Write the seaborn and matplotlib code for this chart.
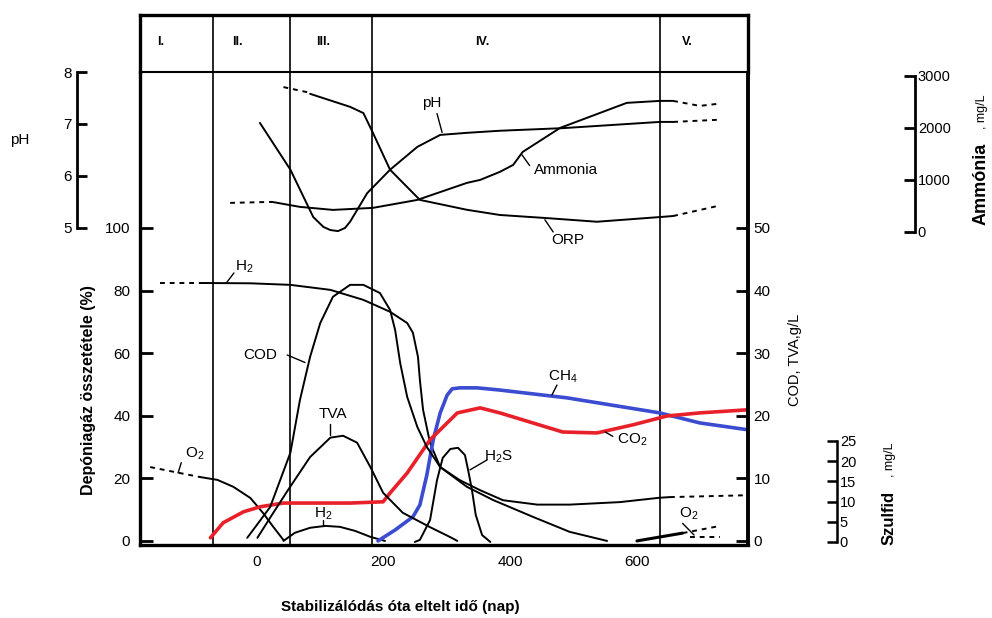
import numpy as np
import pandas as pd
import matplotlib.pyplot as plt
import seaborn as sns

# phases (days)
phase_bounds = [-68, 53, 183, 636]
phase_names = ['I.', 'II.', 'III.', 'IV.', 'V.']
phase_label_x = [-151, -30, 106, 357, 679]

# gas composition, % (the top curve is labelled H2 in the source)
h2_top_day_dash = [-151, -88]
h2_top_dash = [82.4, 82.4]
h2_top_day = [-88, -9, 54, 117, 169, 211, 238, 247, 255, 258, 263, 274, 290, 332, 373, 436, 494, 553]
h2_top = [82.4, 82.3, 81.8, 80.2, 77.0, 73.2, 69.6, 66.5, 58.8, 51.4, 41.9, 31.3, 23.6, 17.3, 13.1, 7.7, 2.9, 0.0]

o2_day_dash = [-167, -128, -88]
o2_dash = [23.6, 22.0, 20.4]
o2_day = [-88, -61, -36, -9, 11, 27, 43]
o2 = [20.4, 19.5, 17.3, 13.7, 8.9, 4.5, 0.3]
o2_end_day = [600, 672]
o2_end = [0.0, 2.5]
o2_end_day_dash = [672, 731]
o2_end_dash = [2.5, 4.8]
o2_low_day_dash = [683, 731]
o2_low_dash = [1.3, 1.3]

h2_day = [43, 61, 85, 109, 132, 156, 180, 203]
h2 = [0.0, 2.6, 4.2, 4.8, 4.5, 3.2, 1.3, 0.0]

ch4_day = [192, 219, 247, 258, 269, 279, 290, 301, 309, 321, 348, 384, 490, 636, 699, 775]
ch4 = [0.0, 3.5, 7.7, 11.5, 21.1, 32.3, 40.9, 46.6, 48.6, 48.9, 48.9, 48.2, 45.7, 40.9, 37.7, 35.5]

co2_day = [-72, -52, -20, 6, 43, 96, 148, 200, 211, 238, 274, 317, 353, 384, 483, 537, 594, 647, 699, 775]
co2 = [1.0, 5.8, 9.3, 10.9, 12.1, 12.1, 12.1, 12.5, 15.3, 21.7, 32.3, 40.9, 42.5, 40.9, 34.8, 34.5, 37.1, 39.9, 40.9, 41.9]

# COD, TVA in g/L
cod_day = [-14, 22, 54, 69, 85, 101, 121, 148, 169, 195, 211, 219, 227, 238, 254, 269, 290, 321, 353, 389, 443, 494, 573, 636, 652]
cod = [0.5, 5.4, 14.1, 22.5, 29.4, 34.8, 39.0, 40.9, 40.9, 39.6, 36.9, 33.7, 28.4, 23.0, 18.2, 15.0, 11.8, 9.7, 8.1, 6.5, 5.8, 5.8, 6.2, 6.9, 7.0]
cod_day_dash = [652, 775]
cod_dash = [7.0, 7.3]

tva_day = [2, 22, 50, 85, 117, 137, 159, 180, 200, 231, 274, 306, 317]
tva = [0.5, 3.7, 8.1, 13.4, 16.5, 16.8, 15.7, 11.8, 7.7, 4.5, 2.2, 0.6, 0.0]

# sulfide (H2S), mg/L
h2s_day = [250, 258, 274, 285, 294, 306, 318, 329, 334, 340, 346, 356, 369]
h2s = [0.0, 0.5, 5.4, 15.3, 20.8, 23.0, 23.3, 21.5, 17.8, 12.9, 6.7, 1.7, 0.0]

# pH
ph_day = [6, 54, 90, 106, 117, 129, 140, 148, 175, 211, 254, 290, 332, 384, 483, 636, 657]
ph = [7.02, 6.12, 5.21, 5.02, 4.96, 4.94, 5.0, 5.12, 5.67, 6.12, 6.56, 6.79, 6.83, 6.87, 6.92, 7.04, 7.04]
ph_day_dash = [657, 726]
ph_dash = [7.04, 7.08]

# ammonia, mg/L
amm_day_dash = [-41, 25]
amm_dash = [558, 577]
amm_day = [25, 69, 121, 184, 254, 332, 353, 384, 405, 420, 479, 584, 636, 657]
amm = [577, 481, 423, 462, 615, 942, 1000, 1154, 1288, 1538, 2000, 2481, 2519, 2519]
amm_day_dash2 = [657, 699, 726]
amm_dash2 = [2519, 2423, 2461]

# ORP has no scale in the source; values are relative, drawn on the pH scale
orp_day_dash = [43, 85]
orp_dash = [7.71, 7.60]
orp_day = [85, 148, 169, 184, 211, 258, 332, 384, 458, 537, 636, 657]
orp = [7.58, 7.33, 7.21, 6.83, 6.12, 5.54, 5.35, 5.25, 5.19, 5.12, 5.21, 5.23]
orp_day_dash2 = [657, 726]
orp_dash2 = [5.23, 5.42]

sns.set_style('white')
plt.rcParams['font.family'] = ['Liberation Sans', 'DejaVu Sans']
plt.rcParams['mathtext.default'] = 'regular'
plt.rcParams['axes.edgecolor'] = 'black'
plt.rcParams['xtick.color'] = 'black'
plt.rcParams['ytick.color'] = 'black'
plt.rcParams['text.color'] = 'black'

fig = plt.figure(figsize=(9.92, 6.18), dpi=100)
W, H = 992, 618
L, R, T, B = 140, 748, 72, 545
ax = fig.add_axes([L / W, 1 - B / H, (R - L) / W, (B - T) / H])
hd = fig.add_axes([L / W, 1 - T / H, (R - L) / W, (T - 15) / H])

xlim = (-183, 775)
gas_lim = (-1.3, 149.8)
ax.set_xlim(*xlim)
ax.set_ylim(*gas_lim)


def lin(g0, v0, g1, v1):
    # linear map from gas-% position to another scale
    k = (v1 - v0) / (g1 - g0)
    return (v0 + (gas_lim[0] - g0) * k, v0 + (gas_lim[1] - g0) * k)


def twin(lim):
    t = ax.twinx()
    t.set_ylim(*lim)
    for s in t.spines.values():
        s.set_visible(False)
    return t


ax_cod = twin(lin(0, 0, 100, 50))
ax_ph = twin(lin(100, 5, 149.84, 8))
ax_amm = twin(lin(98.72, 0, 148.56, 3000))
ax_s = twin(lin(-0.32, 0, 31.95, 25))

blk = dict(color='black', lw=1.4, estimator=None, sort=False)
dsh = dict(color='black', lw=1.4, estimator=None, sort=False, linestyle=(0, (2.5, 2.5)))


def draw(a, x, y, kw):
    sns.lineplot(x=x, y=y, ax=a, **kw)


# gas curves
draw(ax, h2_top_day_dash, h2_top_dash, dsh)
draw(ax, h2_top_day, h2_top, blk)
draw(ax, o2_day_dash, o2_dash, dsh)
draw(ax, o2_day, o2, blk)
draw(ax, o2_end_day, o2_end, dict(blk, lw=2.2))
draw(ax, o2_end_day_dash, o2_end_dash, dsh)
draw(ax, o2_low_day_dash, o2_low_dash, dsh)
draw(ax, h2_day, h2, blk)
draw(ax_cod, cod_day, cod, blk)
draw(ax_cod, cod_day_dash, cod_dash, dsh)
draw(ax_cod, tva_day, tva, blk)
draw(ax_s, h2s_day, h2s, blk)
draw(ax_ph, ph_day, ph, blk)
draw(ax_ph, ph_day_dash, ph_dash, dsh)
draw(ax_ph, orp_day_dash, orp_dash, dsh)
draw(ax_ph, orp_day, orp, blk)
draw(ax_ph, orp_day_dash2, orp_dash2, dsh)
draw(ax_amm, amm_day_dash, amm_dash, dsh)
draw(ax_amm, amm_day, amm, blk)
draw(ax_amm, amm_day_dash2, amm_dash2, dsh)
draw(ax, ch4_day, ch4, dict(color='#3b4cd0', lw=2.6, estimator=None, sort=False))
draw(ax, co2_day, co2, dict(color='#e8202a', lw=2.6, estimator=None, sort=False))

for a in (ax, ax_cod, ax_ph, ax_amm, ax_s):
    a.set_xlabel('')
    a.set_ylabel('')

# phase dividers
for b in phase_bounds:
    ax.axvline(b, color='black', lw=1.2, zorder=0)
    hd.axvline(b, color='black', lw=1.2)

# header
hd.set_xlim(*xlim)
hd.set_ylim(0, 1)
hd.set_xticks([])
hd.set_yticks([])
for n, x in zip(phase_names, phase_label_x):
    hd.text(x, 0.52, n, ha='center', va='center', fontsize=9, fontweight='bold')
for s in ('top', 'left', 'right'):
    hd.spines[s].set_linewidth(2.4)
hd.spines['bottom'].set_linewidth(1.5)

# main axes
ax.spines['top'].set_visible(False)
for s in ('left', 'bottom'):
    ax.spines[s].set_linewidth(2.4)
ax.spines['right'].set_linewidth(2.8)
ax.set_yticks([0, 20, 40, 60, 80, 100])
ax.tick_params(axis='y', direction='in', length=9, width=2, labelsize=11, pad=7)
ax.set_xticks([0, 200, 400, 600])
ax.tick_params(axis='x', length=0, labelsize=11, pad=7)

# COD axis
ax_cod.set_yticks([0, 10, 20, 30, 40, 50])
ax_cod.tick_params(axis='y', direction='in', length=9, width=2, labelsize=11, pad=4)

# pH axis
ax_ph.yaxis.set_ticks_position('left')
ax_ph.spines['left'].set_visible(True)
ax_ph.spines['left'].set_position(('axes', (77 - L) / (R - L)))
ax_ph.spines['left'].set_bounds(5, 8)
ax_ph.spines['left'].set_linewidth(2)
ax_ph.set_yticks([5, 6, 7, 8])
ax_ph.tick_params(axis='y', direction='in', length=7, width=2, labelsize=11, pad=4)

# ammonia axis
ax_amm.spines['right'].set_visible(True)
ax_amm.spines['right'].set_position(('axes', (915 - L) / (R - L)))
ax_amm.spines['right'].set_bounds(0, 3000)
ax_amm.spines['right'].set_linewidth(2)
ax_amm.set_yticks([0, 1000, 2000, 3000])
ax_amm.tick_params(axis='y', direction='in', length=8, width=2, labelsize=10.5, pad=2)

# sulfide axis
ax_s.spines['right'].set_visible(True)
ax_s.spines['right'].set_position(('axes', (837 - L) / (R - L)))
ax_s.spines['right'].set_bounds(0, 25)
ax_s.spines['right'].set_linewidth(1.8)
ax_s.set_yticks([0, 5, 10, 15, 20, 25])
ax_s.tick_params(axis='y', direction='in', length=7, width=1.8, labelsize=10.5, pad=2)

# curve labels with leader lines (days, gas-% positions)
labels = [
    ('H$_2$', (-33, 87.5), (-47, 82.4), (-35, 85.6), 'left'),
    ('COD', (6, 59.4), (49, 59.4), (77, 57.0), 'center'),
    ('TVA', (121, 40.6), (117, 37.4), (117, 33.8), 'center'),
    ('O$_2$', (-112, 27.8), (-123, 21.7), (-118, 25.0), 'left'),
    ('H$_2$', (106, 8.8), (106, 6.6), (106, 4.8), 'center'),
    ('CH$_4$', (483, 52.4), (466, 46.6), (474, 49.8), 'center'),
    ('CO$_2$', (592, 32.2), (550, 34.8), (562, 33.4), 'center'),
    ('H$_2$S', (382, 27.0), (337, 22.7), (364, 25.9), 'center'),
    ('O$_2$', (681, 8.6), (672, 5.6), (690, 1.9), 'center'),
    ('pH', (277, 139.8), (285, 136.5), (293, 130.5), 'center'),
    ('Ammonia', (488, 118.5), (419, 123.3), (431, 119.9), 'center'),
    ('ORP', (491, 96.2), (455, 102.6), (468, 98.7), 'center'),
]
for txt, pos, p0, p1, ha in labels:
    ax.text(pos[0], pos[1], txt, ha=ha, va='center', fontsize=11)
    ax.plot([p0[0], p1[0]], [p0[1], p1[1]], color='black', lw=1)


def ftext(x, y, s, **kw):
    fig.text(x / W, 1 - y / H, s, **kw)


ftext(20, 140, 'pH', fontsize=11, ha='center', va='center')
ftext(88, 390, 'Depóniagáz összetétele (%)', fontsize=11.5, fontweight='bold',
      rotation=90, ha='center', va='center')
ftext(400, 607, 'Stabilizálódás óta eltelt idő (nap)', fontsize=11, fontweight='bold',
      ha='center', va='center')
ftext(795, 360, 'COD, TVA,g/L', fontsize=10.5, rotation=90, ha='center', va='center')
ftext(981, 184, 'Ammónia', fontsize=13, fontweight='bold', rotation=90, ha='center', va='center')
ftext(982, 112, ', mg/L', fontsize=9, rotation=90, ha='center', va='center')
ftext(889, 518, 'Szulfid', fontsize=12, fontweight='bold', rotation=90, ha='center', va='center')
ftext(890, 460, ', mg/L', fontsize=9, rotation=90, ha='center', va='center')

fig.savefig('out.png', dpi=100)
